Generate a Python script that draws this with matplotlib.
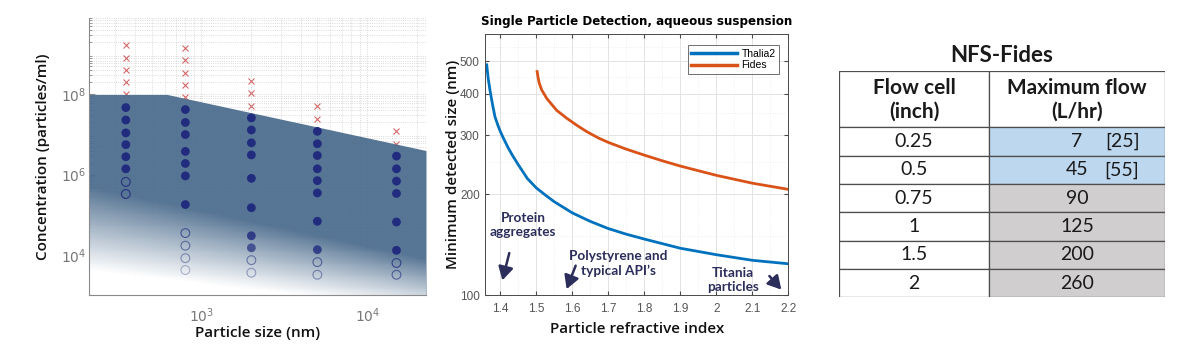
import numpy as np
import matplotlib.pyplot as plt
from matplotlib.colors import LinearSegmentedColormap, to_rgba
from matplotlib.patches import Rectangle
from matplotlib.ticker import LogLocator, NullFormatter, FixedLocator, FixedFormatter

# ---------------- left panel: concentration range vs particle size
sizes = [350, 800, 2000, 5000, 15000]
too_high = [
    [1.66e9, 8.3e8, 4.1e8, 2.0e8, 1.0e8],
    [1.4e9, 7.1e8, 3.5e8, 1.7e8, 8.5e7],
    [2.2e8, 1.1e8, 5.2e7],
    [5.1e7, 2.5e7],
    [1.2e7, 5.9e6],
]
detected = [
    [4.7e7, 2.3e7, 1.1e7, 5.6e6, 2.8e6, 1.4e6],
    [4.2e7, 2.0e7, 1.0e7, 3.8e6, 1.9e6, 9.3e5, 1.8e5],
    [2.6e7, 1.3e7, 6.2e6, 3.1e6, 8.1e5, 1.5e5, 3.0e4, 1.5e4],
    [1.2e7, 5.9e6, 3.0e6, 1.4e6, 7.1e5, 3.5e5, 6.9e4, 1.35e4],
    [2.9e6, 1.4e6, 6.9e5, 3.4e5, 6.6e4, 1.3e4],
]
too_low = [
    [6.6e5, 3.3e5],
    [3.5e4, 1.7e4, 8.3e3, 4.2e3],
    [7.4e3, 3.6e3],
    [6.6e3, 3.2e3],
    [6.3e3, 3.2e3],
]
limit_x = [210, 620, 22600]
limit_y = [1e8, 1e8, 4e6]

# ---------------- middle panel: minimum detectable size
thalia_ri = [1.362, 1.366, 1.371, 1.378, 1.385, 1.393, 1.4, 1.41, 1.422, 1.435, 1.45, 1.475,
             1.5, 1.525, 1.55, 1.6, 1.65, 1.7, 1.75, 1.8, 1.9, 2.0, 2.1, 2.2]
thalia_nm = [488, 445, 410, 372, 341, 322, 308, 292, 275, 260, 245, 223,
             209, 199, 190, 176, 166, 158, 152, 147, 138, 132, 127, 124]
fides_ri = [1.502, 1.505, 1.508, 1.515, 1.529, 1.556, 1.584, 1.612, 1.64, 1.672, 1.7,
            1.75, 1.8, 1.85, 1.9, 2.0, 2.1, 2.2]
fides_nm = [466, 446, 430, 410, 387, 357, 338, 322, 308, 295, 286,
            273, 262, 252, 243, 228, 216, 207]

# ---------------- right panel: flow table
flow_cell = ["0.25", "0.5", "0.75", "1", "1.5", "2"]
max_flow = ["7", "45", "90", "125", "200", "260"]
max_flow_alt = ["[25]", "[55]", "", "", "", ""]
cell_colors = ["#bdd7ee", "#bdd7ee", "#d0cece", "#d0cece", "#d0cece", "#d0cece"]


def fade_at(u, v):
    # how much the lower-left region washes out to white (log10 coords)
    edge = 5.7 - 0.887 * (u - 2.325)
    width = 2.1 - 0.4 * (u - 2.325)
    return np.clip((edge - v) / width, 0, 1)


label_font = dict(family="Open Sans", fontweight="semibold", fontsize=11, color="#111111")

fig = plt.figure(figsize=(12, 3.51), dpi=100)

# ======== left
ax1 = fig.add_axes([0.0742, 0.1595, 0.2808, 0.789])
ax1.set_xscale("log")
ax1.set_yscale("log")
ax1.set_xlim(210, 22600)
ax1.set_ylim(1e3, 8e9)

ax1.grid(True, which="both", ls=":", lw=0.6, color="#cfcfcf")
ax1.set_axisbelow(True)

for x, ys in zip(sizes, too_high):
    ax1.plot([x] * len(ys), ys, "x", ms=5, mew=0.8, color="#d46a6a", zorder=1)

poly = ax1.fill_between(limit_x, [1e3] * 3, limit_y, color="#4a6b8c", alpha=0.93, lw=0,
                        zorder=1.5)

u = np.linspace(np.log10(210), np.log10(22600), 300)
v = np.linspace(3, np.log10(8e9), 300)
U, V = np.meshgrid(u, v)
white = LinearSegmentedColormap.from_list("wf", [(1, 1, 1, 0), (1, 1, 1, 1)])
mesh = ax1.pcolormesh(10 ** u, 10 ** v, fade_at(U, V)[:-1, :-1], cmap=white, vmin=0, vmax=1,
                      shading="flat", zorder=1.6, rasterized=True)
mesh.set_clip_path(poly.get_paths()[0], ax1.transData)

navy = "#222c7e"
for x, ys in zip(sizes, detected):
    a = 1 - 0.8 * fade_at(np.log10(x), np.log10(ys))
    cols = [to_rgba(navy, ai) for ai in a]
    ax1.scatter([x] * len(ys), ys, s=40, c=cols, edgecolors="none", zorder=2)
for x, ys in zip(sizes, too_low):
    a = 1 - 0.8 * fade_at(np.log10(x), np.log10(ys))
    cols = [to_rgba("#27337f", ai) for ai in a]
    ax1.scatter([x] * len(ys), ys, s=40, facecolors="none", edgecolors=cols, linewidths=0.8,
                zorder=2)

ax1.spines["top"].set_visible(False)
ax1.spines["right"].set_visible(False)
ax1.spines["left"].set_color("#8a8a8a")
ax1.spines["bottom"].set_color("#8a8a8a")
ax1.xaxis.set_major_locator(LogLocator(base=10, numticks=10))
ax1.yaxis.set_major_locator(FixedLocator([1e4, 1e6, 1e8]))
ax1.yaxis.set_minor_locator(LogLocator(base=10, subs=np.arange(2, 10), numticks=20))
ax1.xaxis.set_minor_locator(LogLocator(base=10, subs=np.arange(2, 10), numticks=20))
ax1.yaxis.set_minor_formatter(NullFormatter())
ax1.xaxis.set_minor_formatter(NullFormatter())
ax1.tick_params(which="both", direction="in", colors="#8a8a8a", labelcolor="#777777",
                labelsize=10)
ax1.tick_params(axis="x", which="major", length=4, pad=8)
ax1.tick_params(axis="y", which="major", length=4, pad=2)
ax1.tick_params(which="minor", length=2)
ax1.set_xlabel("Particle size (nm)", labelpad=1, **label_font)
ax1.set_ylabel("Concentration (particles/ml)", labelpad=8, **label_font)

# ======== middle
ax2 = fig.add_axes([0.4044, 0.1595, 0.2525, 0.7427])
ax2.set_yscale("log")
ax2.set_xlim(1.358, 2.2)
ax2.set_ylim(100, 602)
ax2.plot(thalia_ri, thalia_nm, color="#0072bd", lw=2, label="Thalia2")
ax2.plot(fides_ri, fides_nm, color="#d95319", lw=2, label="Fides")

ax2.xaxis.set_major_locator(FixedLocator([1.4, 1.5, 1.6, 1.7, 1.8, 1.9, 2.0, 2.1, 2.2]))
ax2.xaxis.set_major_formatter(FixedFormatter(["1.4", "1.5", "1.6", "1.7", "1.8", "1.9", "2", "2.1", "2.2"]))
ax2.xaxis.set_minor_locator(FixedLocator([1.45, 1.55, 1.65, 1.75, 1.85, 1.95, 2.05, 2.15]))
ax2.yaxis.set_major_locator(FixedLocator([100, 200, 300, 400, 500]))
ax2.yaxis.set_major_formatter(FixedFormatter(["100", "200", "300", "400", "500"]))
ax2.yaxis.set_minor_locator(FixedLocator([150, 250, 350, 450, 550]))
ax2.yaxis.set_minor_formatter(NullFormatter())
ax2.grid(True, which="major", color="#e3e3e3", lw=0.7)
ax2.grid(True, which="minor", color="#ececec", lw=0.6, ls=":")
ax2.set_axisbelow(True)
for s in ax2.spines.values():
    s.set_color("#4a4a4a")
    s.set_linewidth(0.7)
ax2.tick_params(which="both", direction="in", top=True, right=True, colors="#4a4a4a",
                labelcolor="#555555", labelsize=8.5)
ax2.tick_params(axis="x", which="major", length=3, pad=6)
ax2.tick_params(axis="y", which="major", length=3, pad=4)
ax2.tick_params(which="minor", length=0)
for lab in ax2.get_xticklabels() + ax2.get_yticklabels():
    lab.set_family("Liberation Sans")
ax2.set_xlabel("Particle refractive index", labelpad=5, **label_font)
ax2.set_ylabel("Minimum detected size (nm)", labelpad=0, **label_font)
ax2.set_title("Single Particle Detection, aqueous suspension", fontsize=8.6, fontweight="bold",
              pad=7)
leg = ax2.legend(loc="upper right", frameon=True, fancybox=False, borderaxespad=0,
                 borderpad=0.35, handlelength=4.4, handletextpad=0.4, labelspacing=0.15,
                 bbox_to_anchor=(0.97, 0.959), prop={"family": "Liberation Sans", "size": 7.5})
leg.get_frame().set_edgecolor("#4a4a4a")
leg.get_frame().set_linewidth(0.7)
for h in leg.get_lines():
    h.set_linewidth(2.5)

ink = "#2b2d5a"
note_font = dict(family="Lato", fontweight="bold", fontsize=9.8, color=ink,
                 ha="center", va="center", linespacing=1.25)
arrow = dict(arrowstyle="-|>,head_width=0.45,head_length=0.8", color=ink, lw=1.8)
ax2.text(1.463, 162, "Protein\naggregates", **note_font)
ax2.annotate("", xy=(1.4036, 108.6), xytext=(1.4266, 136), arrowprops=arrow)
ax2.text(1.727, 124.2, "Polystyrene and\ntypical API’s", **note_font)
ax2.annotate("", xy=(1.5813, 102.3), xytext=(1.6119, 124.6), arrowprops=arrow)
ax2.text(2.047, 110.9, "Titania\nparticles", **note_font)
ax2.annotate("", xy=(2.1858, 102.3), xytext=(2.1424, 115.6), arrowprops=arrow)

# ======== right: table
col_w = [150, 176]
ax3 = fig.add_axes([0.6992, 0.153, 0.2717, 0.6456])
ax3.set_xlim(0, sum(col_w))
ax3.set_ylim(8, 0)
ax3.axis("off")
line_c = "#4d4d4d"
tfont = dict(family="Lato", ha="center", va="center", color="#1a1a1a")

ax3.add_patch(Rectangle((0, 0), col_w[0], 2, fc="white", ec=line_c, lw=0.9))
ax3.add_patch(Rectangle((col_w[0], 0), col_w[1], 2, fc="white", ec=line_c, lw=0.9))
ax3.text(col_w[0] / 2, 1.02, "Flow cell\n(inch)", fontsize=15, fontweight="bold",
         linespacing=1.25, **tfont)
ax3.text(col_w[0] + col_w[1] / 2, 1.02, "Maximum flow\n(L/hr)", fontsize=15,
         fontweight="bold", linespacing=1.25, **tfont)
ax3.text(sum(col_w) / 2, -0.55, "NFS-Fides", fontsize=16, fontweight="bold", **tfont)

for i, (fc, mf, alt, c) in enumerate(zip(flow_cell, max_flow, max_flow_alt, cell_colors)):
    y0 = 2 + i
    ax3.add_patch(Rectangle((0, y0), col_w[0], 1, fc="white", ec=line_c, lw=0.9))
    ax3.add_patch(Rectangle((col_w[0], y0), col_w[1], 1, fc=c, ec=line_c, lw=0.9))
    ax3.text(col_w[0] / 2, y0 + 0.5, fc, fontsize=14, **tfont)
    ax3.text(col_w[0] + col_w[1] / 2, y0 + 0.5, mf, fontsize=14, **tfont)
    if alt:
        ax3.text(283, y0 + 0.5, alt, fontsize=14, **tfont)

fig.savefig("out.png", dpi=100)
